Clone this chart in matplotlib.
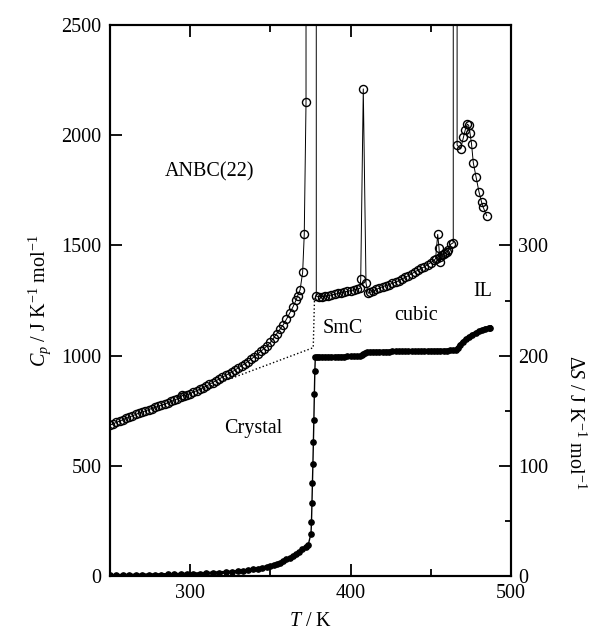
import matplotlib
matplotlib.use('Agg')
import matplotlib.pyplot as plt
from matplotlib.ticker import MultipleLocator, FixedLocator

plt.rcParams['font.family'] = ['Liberation Serif', 'DejaVu Serif']
plt.rcParams['mathtext.fontset'] = 'custom'
plt.rcParams['mathtext.rm'] = 'Liberation Serif'
plt.rcParams['mathtext.it'] = 'Liberation Serif:italic'
plt.rcParams['font.size'] = 14.5

# heat capacity, open circles (T / K, Cp / J K-1 mol-1)
# 1e5 = off-scale top of the transition peaks
cp_T = [250, 252, 254, 256, 258, 260, 262, 264, 266, 268, 270, 272, 274, 276, 278,
        280, 282, 284, 286, 288, 290, 292, 294, 295, 296, 298, 300, 302, 304, 306, 308,
        310, 312, 314, 316, 318, 320, 322, 324, 326, 328, 330, 332, 334, 336, 338,
        340, 342, 344, 346, 348, 350, 352, 354, 356, 358, 360, 362, 364, 366, 367,
        368.5, 370.1, 371.1, 372.2, 372.4, 378.0,
        378.6, 380, 382, 384, 386, 388, 390, 392, 394, 396, 398, 400, 402, 404, 405.9,
        406.3, 407.9, 409.6,
        411, 412, 414, 416, 418, 420, 422, 424, 426, 428, 430, 432, 434, 436, 438,
        440, 442, 444, 446, 448, 450, 452, 453, 454.3, 455.1, 455.7, 456, 457, 458,
        459, 460, 461, 462.4, 464, 464.3, 466.6,
        466.4, 468.6, 470.3, 471.5, 472.8, 473.6, 474.4, 475.4, 476.5, 478.2, 480,
        481.7, 482.7, 484.8]
cp_val = [685, 691, 697, 703, 709, 716, 721, 727, 733, 739, 744, 749, 755, 760, 765,
          770, 775, 780, 786, 792, 798, 804, 810, 820, 816, 822, 828, 835, 841, 848, 855,
          862, 870, 878, 886, 894, 902, 910, 918, 926, 935, 945, 954, 963, 973, 984,
          995, 1007, 1019, 1032, 1045, 1060, 1080, 1100, 1120, 1140, 1165, 1192, 1220, 1252, 1272,
          1298, 1378, 1550, 2150, 1e5, 1e5,
          1270, 1268, 1268, 1269, 1272, 1275, 1278, 1282, 1285, 1288, 1292, 1295, 1298, 1302, 1305,
          1346, 2210, 1328,
          1283, 1287, 1292, 1300, 1307, 1313, 1318, 1322, 1328, 1333, 1340, 1348, 1355, 1363, 1371,
          1380, 1388, 1396, 1403, 1413, 1422, 1432, 1440, 1550, 1490, 1423, 1448, 1455, 1460,
          1465, 1471, 1478, 1505, 1512, 1e5, 1e5,
          1955, 1938, 1990, 2025, 2050, 2045, 2012, 1960, 1875, 1812, 1744,
          1695, 1673, 1635]

# entropy, filled dots (T / K, dS / J K-1 mol-1), right axis
ds_T = [250, 254, 258, 262, 266, 270, 274, 278, 282, 286, 290, 294, 298, 302, 306,
        310, 314, 318, 322, 326, 330, 333, 336, 339, 342, 345, 348, 350, 352, 354,
        356, 358, 360, 362, 364, 366, 368, 370, 372, 373.6,
        375.3, 375.6, 375.9, 376.2, 376.5, 376.8, 377.1, 377.4, 377.7, 378.0,
        379, 380, 382, 384, 386, 388, 390, 392, 394, 396, 398, 400, 402, 404, 406,
        407, 408, 409, 410, 412, 414, 416, 418, 420, 422, 424, 426, 428, 430, 432,
        434, 436, 438, 440, 442, 444, 446, 448, 450, 452, 454, 456, 458, 460, 462,
        464, 466, 467, 468, 470, 472, 474, 476, 478, 480, 482, 484, 486, 487]
ds_val = [0.5, 0.6, 0.7, 0.8, 0.9, 1.0, 1.1, 1.2, 1.3, 1.4, 1.5, 1.6, 1.8, 2.0, 2.2,
          2.5, 2.8, 3.1, 3.4, 3.8, 4.3, 4.8, 5.4, 6.0, 6.8, 7.6, 8.6, 9.4, 10.2, 11.2,
          12.2, 13.5, 15.0, 16.5, 18.2, 20.0, 22.0, 24.2, 26.5, 28.5,
          38.5, 49, 66, 84.5, 102, 122, 142, 165, 186, 198.5,
          199, 199, 199, 199, 199, 199, 199, 199.2, 199.2, 199.2, 199.3, 199.3, 199.4, 199.5, 199.6,
          200.5, 201.5, 202.5, 203.2, 203.4, 203.5, 203.5, 203.6, 203.6, 203.7, 203.7, 203.8, 203.8, 203.9, 203.9,
          204, 204, 204.1, 204.1, 204.2, 204.2, 204.3, 204.3, 204.4, 204.4, 204.5, 204.5, 204.6, 204.6, 204.7,
          204.8, 205.5, 207, 209.5, 212.5, 215, 217, 219, 220.5, 222, 223.3, 224.5, 225.3, 225.5]

# dotted baseline under the crystal anomaly
base_T = [300, 376.7, 377.5]
base_val = [827, 1036, 1262]

fig = plt.figure(figsize=(5.98, 6.33), dpi=100)
ax = fig.add_axes([0.184, 0.090, 0.6705, 0.8705])
ax2 = ax.twinx()

ax.plot(cp_T, cp_val, '-', color='black', lw=0.7, zorder=2)
ax.plot(cp_T, cp_val, 'o', ms=5.8, mfc='none', mec='black', mew=1.0, zorder=3)
ax.plot(base_T, base_val, ':', color='black', lw=1.0)

ax2.plot(ds_T, ds_val, '-', color='black', lw=1.0)
# the dense run before and after the steep rise reads as a thick band
ax2.plot(ds_T[:40], ds_val[:40], '-', color='black', lw=2.2)
ax2.plot(ds_T[49:], ds_val[49:], '-', color='black', lw=3.0)
ax2.plot(ds_T, ds_val, 'o', ms=3.8, color='black')

ax.set_xlim(250, 500)
ax.set_ylim(0, 2500)
ax2.set_ylim(0, 500)

ax.xaxis.set_major_locator(MultipleLocator(100))
ax.xaxis.set_minor_locator(MultipleLocator(50))
ax.yaxis.set_major_locator(MultipleLocator(500))
ax2.yaxis.set_major_locator(FixedLocator([0, 100, 200, 300]))
ax2.yaxis.set_minor_locator(FixedLocator([50, 150, 250]))

ax.tick_params(which='both', direction='in', top=True, right=False, width=1.3)
ax.tick_params(which='major', length=8.5, pad=6)
ax.tick_params(which='minor', length=5)
ax2.tick_params(which='both', direction='in', width=1.3)
ax2.tick_params(which='major', length=8.5, pad=5)
ax2.tick_params(which='minor', length=4)

for a in (ax, ax2):
    for s in a.spines.values():
        s.set_linewidth(1.5)

ax.set_xlabel(r'$T$ / K', labelpad=6)
ax.set_ylabel(r'$C_p$ / J K$^{-1}$ mol$^{-1}$', labelpad=6)
ax2.set_ylabel(r'$\Delta S$ / J K$^{-1}$ mol$^{-1}$', rotation=-90, va='center')
ax2.yaxis.set_label_coords(1.16, 0.28)

ax.text(312, 1833, 'ANBC(22)', ha='center', va='center')
ax.text(395, 1125, 'SmC', ha='center', va='center')
ax.text(441, 1184, 'cubic', ha='center', va='center')
ax.text(482.5, 1293, 'IL', ha='center', va='center')
ax.text(339, 671, 'Crystal', ha='center', va='center')

fig.savefig('out.png', dpi=100)
